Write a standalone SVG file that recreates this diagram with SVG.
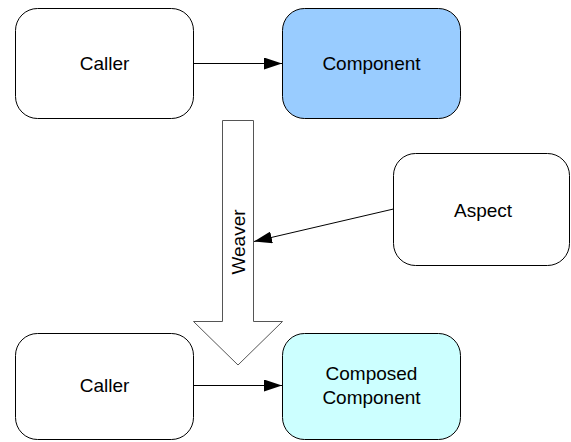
<svg xmlns="http://www.w3.org/2000/svg" width="571" height="442" viewBox="0 0 571 442">
<defs>
<style>
.box{stroke:#000;stroke-width:1}
.lbl{font-family:"Liberation Sans",Arial,sans-serif;font-size:19px;fill:#000;text-anchor:middle}
.conn{stroke:#000;stroke-width:1;fill:none}
</style>
<marker id="ah" markerWidth="18" markerHeight="12" refX="18" refY="6" orient="auto" markerUnits="userSpaceOnUse">
<path d="M0,0 L18,6 L0,12 Z" fill="#000"/>
</marker>
</defs>
<rect width="571" height="442" fill="#fff"/>
<g id="caller-top">
<rect class="box" x="15.5" y="8.5" width="178" height="110" rx="22" fill="#fff"/>
<text class="lbl" x="104.5" y="70">Caller</text>
</g>
<g id="component">
<rect class="box" x="282.5" y="8.5" width="178" height="110" rx="22" fill="#99ccff"/>
<text class="lbl" x="371.5" y="70">Component</text>
</g>
<g id="weaver">
<path d="M222.5,120.5 H253.5 V321.5 H282.5 L238,365 L193.5,321.5 H222.5 Z" fill="#fff" stroke="#555" stroke-width="1"/>
<text class="lbl" transform="translate(245,242) rotate(-90)">Weaver</text>
</g>
<g id="aspect">
<rect class="box" x="393.5" y="153.5" width="176" height="112" rx="22" fill="#fff"/>
<text class="lbl" x="483" y="217">Aspect</text>
</g>
<g id="caller-bottom">
<rect class="box" x="15.5" y="333.5" width="178" height="106" rx="22" fill="#fff"/>
<text class="lbl" x="104.5" y="392">Caller</text>
</g>
<g id="composed">
<rect class="box" x="282.5" y="333.5" width="178" height="106" rx="22" fill="#ccffff"/>
<text class="lbl" x="371.5" y="380">Composed</text>
<text class="lbl" x="371.5" y="404">Component</text>
</g>
<g id="connectors">
<line class="conn" x1="193.5" y1="63.5" x2="282" y2="63.5" marker-end="url(#ah)"/>
<line class="conn" x1="393.5" y1="209" x2="254" y2="241.5" marker-end="url(#ah)"/>
<line class="conn" x1="193.5" y1="385.5" x2="282" y2="385.5" marker-end="url(#ah)"/>
</g>
</svg>
